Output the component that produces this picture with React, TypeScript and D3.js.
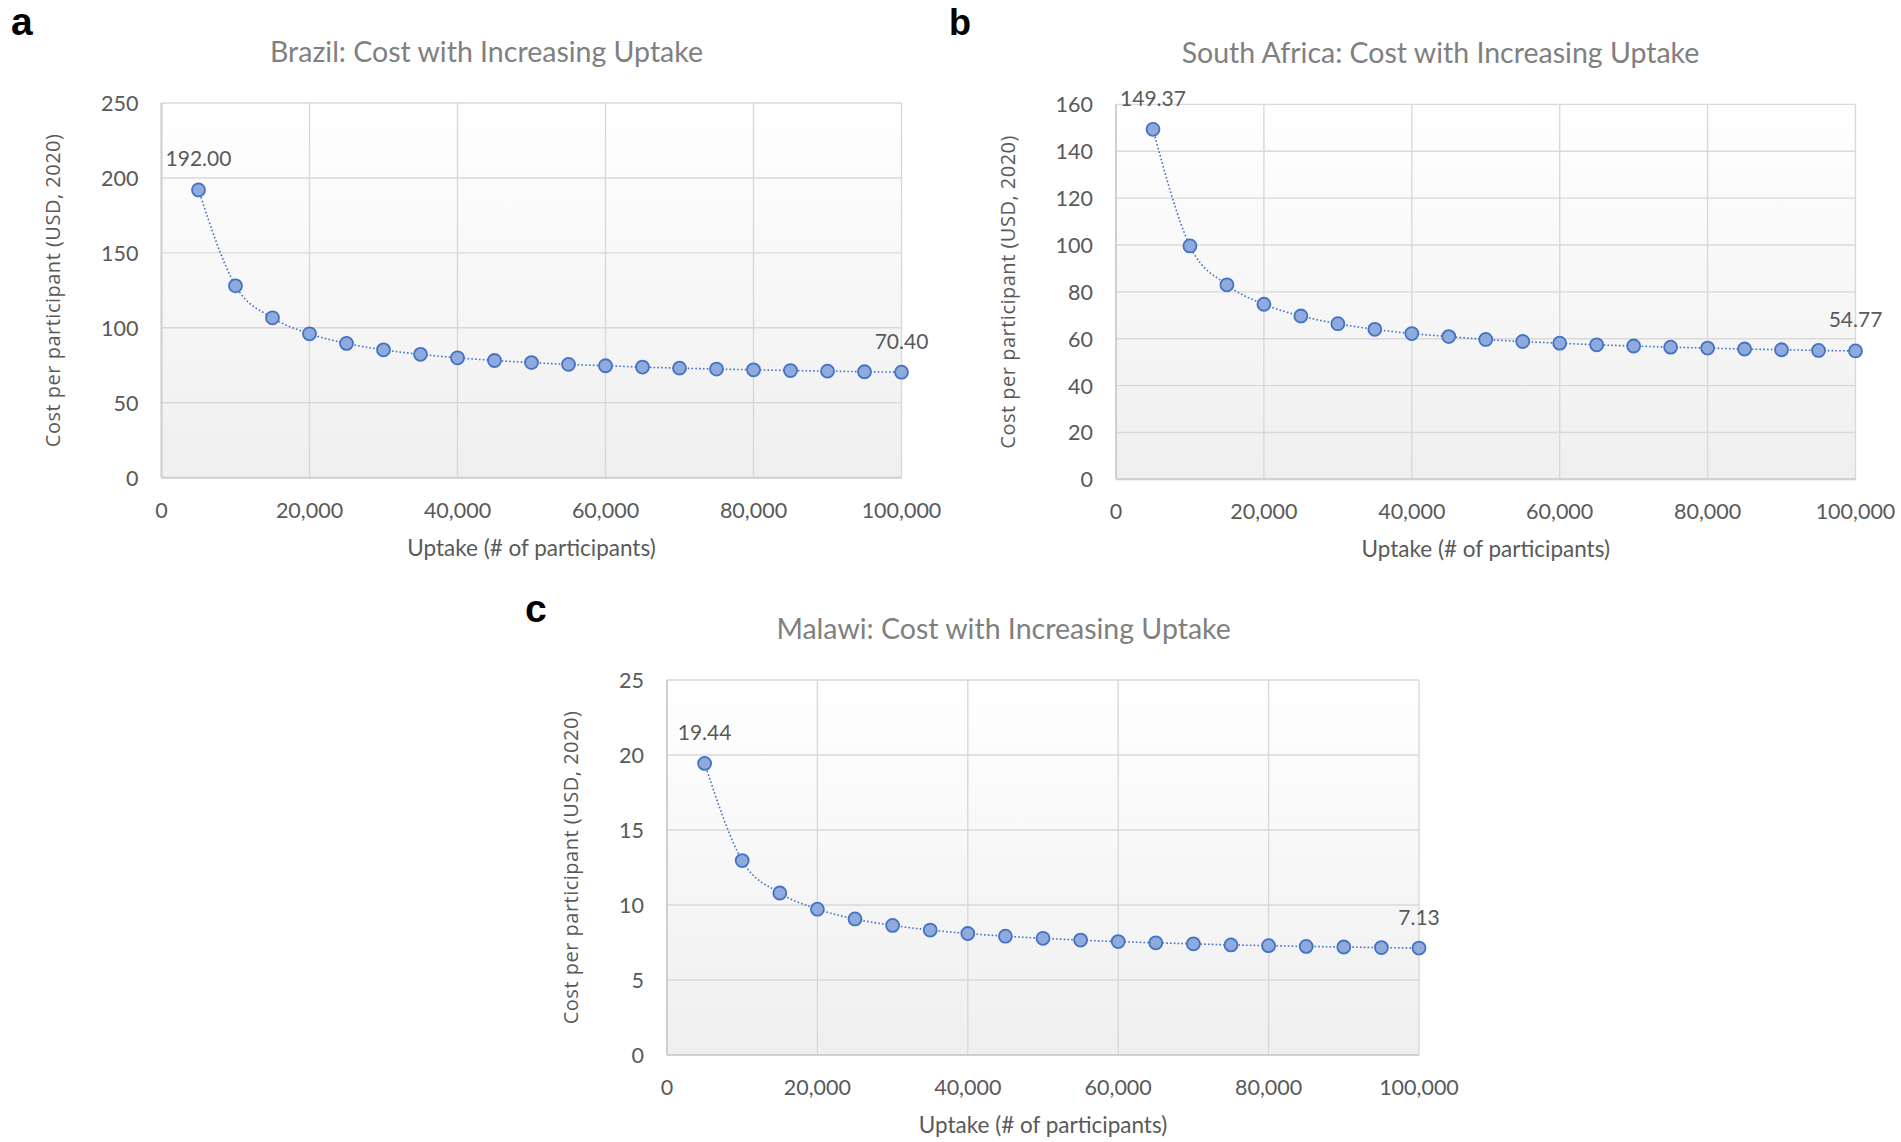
import * as React from "react";
import * as d3 from "d3";

// uptake levels (# of participants), shared by all three panels
const uptake = [
  5000, 10000, 15000, 20000, 25000, 30000, 35000, 40000, 45000, 50000,
  55000, 60000, 65000, 70000, 75000, 80000, 85000, 90000, 95000, 100000,
];

// cost per participant (USD, 2020)
const brazilCost = [
  192.0, 128.0, 106.7, 96.0, 89.6, 85.3, 82.3, 80.0, 78.2, 76.8,
  75.6, 74.7, 73.8, 73.1, 72.5, 72.0, 71.5, 71.1, 70.7, 70.4,
];
const southAfricaCost = [
  149.37, 99.6, 83.0, 74.7, 69.7, 66.4, 64.0, 62.2, 60.9, 59.7,
  58.8, 58.1, 57.4, 56.9, 56.4, 56.0, 55.6, 55.3, 55.0, 54.77,
];
const malawiCost = [
  19.44, 12.96, 10.8, 9.72, 9.07, 8.64, 8.33, 8.1, 7.92, 7.78,
  7.66, 7.56, 7.48, 7.41, 7.34, 7.29, 7.24, 7.2, 7.16, 7.13,
];

const xTickValues = [0, 20000, 40000, 60000, 80000, 100000];
const brazilTicks = [0, 50, 100, 150, 200, 250];
const southAfricaTicks = [0, 20, 40, 60, 80, 100, 120, 140, 160];
const malawiTicks = [0, 5, 10, 15, 20, 25];

const CALIBRI = "Lato, 'Open Sans', sans-serif";
const AXIS_TITLE_FONT = "'Open Sans', sans-serif";
const TEXT = "#595959";
const GRID = "#d9d9d9";
const LINE = "#4472c4";
const MARKER = "#8faadc";

type PanelProps = {
  id: string;
  letter: string;
  letterX: number;
  letterY: number;
  letterSize: number;
  title: string;
  titleX: number;
  titleY: number;
  costs: number[];
  yTicks: number[];
  left: number;
  right: number;
  top: number;
  bottom: number;
  yTitleX: number;
};

function Panel(p: PanelProps) {
  const xScale = d3.scaleLinear().domain([0, 100000]).range([p.left, p.right]);
  const yScale = d3
    .scaleLinear()
    .domain([0, p.yTicks[p.yTicks.length - 1]])
    .range([p.bottom, p.top]);

  const points = uptake.map((u, i) => ({ u, c: p.costs[i] }));
  const lineGen = d3
    .line<{ u: number; c: number }>()
    .x((d) => xScale(d.u))
    .y((d) => yScale(d.c))
    .curve(d3.curveMonotoneX);

  const fmt = d3.format(",");
  const midX = (p.left + p.right) / 2;
  const midY = (p.top + p.bottom) / 2;
  const first = points[0];
  const last = points[points.length - 1];

  return (
    <g>
      <defs>
        <linearGradient id={`bg-${p.id}`} x1="0" y1="0" x2="0" y2="1">
          <stop offset="0%" stopColor="#ffffff" />
          <stop offset="100%" stopColor="#efefef" />
        </linearGradient>
      </defs>
      <text
        x={p.letterX}
        y={p.letterY}
        fontFamily="'Liberation Sans', Arial, sans-serif"
        fontWeight="bold"
        fontSize={p.letterSize}
        fill="#000"
      >
        {p.letter}
      </text>
      <text
        x={p.titleX}
        y={p.titleY}
        textAnchor="middle"
        fontFamily={CALIBRI}
        fontSize={28.5}
        fill="#808080"
      >
        {p.title}
      </text>

      <rect
        x={p.left}
        y={p.top}
        width={p.right - p.left}
        height={p.bottom - p.top}
        fill={`url(#bg-${p.id})`}
      />
      {/* gridlines */}
      {p.yTicks.map((t) => (
        <line
          key={`gy${t}`}
          x1={p.left}
          x2={p.right}
          y1={yScale(t)}
          y2={yScale(t)}
          stroke={GRID}
          strokeWidth={1.4}
        />
      ))}
      {xTickValues.map((t) => (
        <line
          key={`gx${t}`}
          x1={xScale(t)}
          x2={xScale(t)}
          y1={p.top}
          y2={p.bottom}
          stroke={GRID}
          strokeWidth={1.4}
        />
      ))}
      {/* axis lines */}
      <line x1={p.left} x2={p.right} y1={p.bottom} y2={p.bottom} stroke="#cfcfcf" strokeWidth={2} />
      <line x1={p.left} x2={p.left} y1={p.top} y2={p.bottom} stroke="#cfcfcf" strokeWidth={2} />

      {/* tick labels */}
      <g fontFamily={CALIBRI} fontSize={21.5} fill={TEXT}>
        {p.yTicks.map((t) => (
          <text
            key={`ty${t}`}
            x={p.left - 23}
            y={yScale(t)}
            textAnchor="end"
            dominantBaseline="central"
          >
            {t}
          </text>
        ))}
        {xTickValues.map((t) => (
          <text
            key={`tx${t}`}
            x={xScale(t)}
            y={p.bottom + 32}
            textAnchor="middle"
            dominantBaseline="central"
          >
            {fmt(t)}
          </text>
        ))}
      </g>
      <text
        x={midX}
        y={p.bottom + 69.5}
        textAnchor="middle"
        dominantBaseline="central"
        fontFamily={CALIBRI}
        fontSize={22.5}
        fill={TEXT}
      >
        Uptake (# of participants)
      </text>
      <text
        transform={`translate(${p.yTitleX}, ${midY}) rotate(-90)`}
        textAnchor="middle"
        dominantBaseline="central"
        fontFamily={AXIS_TITLE_FONT}
        fontSize={20}
        letterSpacing={0.5}
        fill={TEXT}
      >
        Cost per participant (USD, 2020)
      </text>

      {/* series */}
      <path
        d={lineGen(points) ?? ""}
        fill="none"
        stroke={LINE}
        strokeWidth={1.6}
        strokeDasharray="1.6 2.2"
      />
      {points.map((d) => (
        <circle
          key={d.u}
          cx={xScale(d.u)}
          cy={yScale(d.c)}
          r={6.5}
          fill={MARKER}
          stroke={LINE}
          strokeWidth={1.8}
        />
      ))}
      <g fontFamily={CALIBRI} fontSize={21} fill={TEXT} textAnchor="middle">
        <text x={xScale(first.u)} y={yScale(first.c) - 32} dominantBaseline="central">
          {first.c.toFixed(2)}
        </text>
        <text x={xScale(last.u)} y={yScale(last.c) - 32} dominantBaseline="central">
          {last.c.toFixed(2)}
        </text>
      </g>
    </g>
  );
}

export default function App() {
  return (
    <svg
      width={1901}
      height={1142}
      style={{ position: "absolute", left: 0, top: 0, background: "#fff" }}
    >
      <rect width={1901} height={1142} fill="#fff" />
      <Panel
        id="br"
        letter="a"
        letterX={11}
        letterY={35}
        letterSize={39}
        title="Brazil: Cost with Increasing Uptake"
        titleX={486.5}
        titleY={62}
        costs={brazilCost}
        yTicks={brazilTicks}
        left={161.5}
        right={901.5}
        top={103}
        bottom={477.7}
        yTitleX={52.5}
      />
      <Panel
        id="sa"
        letter="b"
        letterX={949}
        letterY={35}
        letterSize={36}
        title="South Africa: Cost with Increasing Uptake"
        titleX={1440.5}
        titleY={62.5}
        costs={southAfricaCost}
        yTicks={southAfricaTicks}
        left={1116}
        right={1855.5}
        top={104.4}
        bottom={479.3}
        yTitleX={1007}
      />
      <Panel
        id="mw"
        letter="c"
        letterX={525}
        letterY={622}
        letterSize={39}
        title="Malawi: Cost with Increasing Uptake"
        titleX={1003.6}
        titleY={638.5}
        costs={malawiCost}
        yTicks={malawiTicks}
        left={667}
        right={1419}
        top={680}
        bottom={1055}
        yTitleX={570}
      />
    </svg>
  );
}
